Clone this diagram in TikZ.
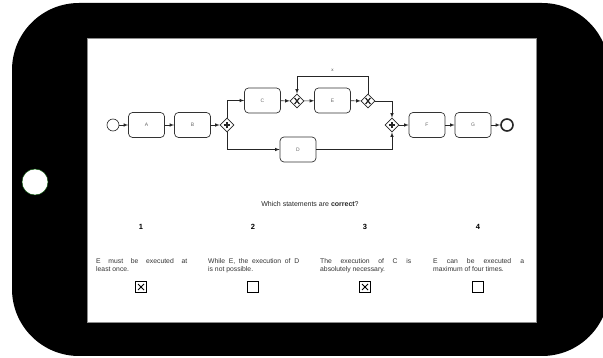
\documentclass[tikz,border=0pt]{standalone}
\usepackage{fontspec}
\setmainfont{Liberation Sans}
\usetikzlibrary{calc,shapes,positioning}
\usetikzlibrary{arrows}

\begin{document}
\begin{tikzpicture}[x=1pt,y=-1pt,>=latex]
    \tikzstyle{task} = [thick, draw=black!80, line width=0.7pt, rectangle, rounded corners = 4pt, minimum width = 36pt, minimum height = 25pt, inner sep = 0pt, font=\fontsize{5}{6}\selectfont, text=black!60]
    \tikzstyle{pgate} = [draw=black!85, diamond, line width=0.6pt, minimum size = 14pt, inner sep = 0pt,
      path picture={\draw[line width=1.3pt] ([xshift=-3.4pt]path picture bounding box.center) -- ([xshift=3.4pt]path picture bounding box.center) ([yshift=-3.4pt]path picture bounding box.center) -- ([yshift=3.4pt]path picture bounding box.center);}]
    \tikzstyle{xgate} = [draw=black!85, diamond, line width=0.6pt, minimum size = 14pt, inner sep = 0pt,
      path picture={\draw[line width=1.2pt] ([shift={(-2.4pt,-3pt)}]path picture bounding box.center) -- ([shift={(2.4pt,3pt)}]path picture bounding box.center) ([shift={(-2.4pt,3pt)}]path picture bounding box.center) -- ([shift={(2.4pt,-3pt)}]path picture bounding box.center);}]
    \tikzstyle{event} = [draw=black!85, circle, minimum size = 12pt, inner sep = 0pt, line width=0.6pt]
    \tikzstyle{flow} = [->, line width=0.6pt, draw=black!85]
    \tikzstyle{stmt} = [anchor=north west, text width = 91pt, align=justify, inner sep = 0pt, font=\fontsize{6.8}{8}\selectfont, text=black!80]
    \tikzstyle{num} = [font=\fontsize{7.5}{9}\selectfont\bfseries]
    \tikzstyle{cbox} = [draw, line width=1.1pt, minimum size = 11pt, inner sep = 0pt]
    \tikzstyle{cboxx} = [cbox, path picture={\draw[line width=0.8pt] ([shift={(-3pt,-3pt)}]path picture bounding box.center) -- ([shift={(3pt,3pt)}]path picture bounding box.center) ([shift={(-3pt,3pt)}]path picture bounding box.center) -- ([shift={(3pt,-3pt)}]path picture bounding box.center);}]

    \useasboundingbox (0,0) rectangle (603,358);
    \fill[white] (0,0) rectangle (603,358);

    % tablet
    \fill[black, rounded corners = 67pt] (12,3) rectangle (609,356);
    \fill[white] (87,38) rectangle (536,322);
    \draw[black!45, line width=0.6pt] (87,38) rectangle (536,322);
    \draw[fill=white, draw=green!35!black, line width=0.4pt] (35,182) circle (13pt);

    % process
    \node[event] (start) at (113,125) {};
    \node[task] (A) at (146.5,125) {A};
    \node[task] (B) at (192.5,125) {B};
    \node[pgate] (g1) at (227,125) {};
    \node[task] (C) at (262.5,100.5) {C};
    \node[task] (D) at (298,149.5) {D};
    \node[xgate] (x1) at (297,101) {};
    \node[task] (E) at (332.5,100.5) {E};
    \node[xgate] (x2) at (368,101) {};
    \node[pgate] (g2) at (392,125) {};
    \node[task] (F) at (427,125) {F};
    \node[task] (G) at (473,125) {G};
    \node[event, line width=1.6pt] (end) at (507,125) {};

    \coordinate (loopR) at (368,76);
    \coordinate (loopL) at (297,76);

    \draw[flow] (start) -- (A);
    \draw[flow] (A) -- (B);
    \draw[flow] (B) -- (g1);
    \draw[flow] (g1) |- (C);
    \draw[flow] (g1) |- (D);
    \draw[flow] (C) -- (x1);
    \draw[flow] (x1) -- (E);
    \draw[flow] (E) -- (x2);
    \draw[flow] (x2) -- (loopR) -- node[above=0.5pt, font=\fontsize{4.5}{5}\selectfont, text=black!70] (xlab) {x} (loopL) -- (x1);
    \draw[flow] (x2) -| (g2);
    \draw[flow] (D) -| (g2);
    \draw[flow] (g2) -- (F);
    \draw[flow] (F) -- (G);
    \draw[flow] (G) -- (end);

    % question
    \node[font=\fontsize{7}{8}\selectfont, text=black!85] (q) at (310,204) {Which statements are \textbf{correct}?};

    \node[num] (n1) at (141,227) {1};
    \node[num] (n2) at (253,227) {2};
    \node[num] (n3) at (365,227) {3};
    \node[num] (n4) at (478,227) {4};

    \node[stmt] (s1) at (96,258) {E must be executed at\linebreak least once.};
    \node[stmt] (s2) at (208,258) {While E, the execution of D\linebreak is not possible.};
    \node[stmt] (s3) at (320,258) {The execution of C is\linebreak absolutely necessary.};
    \node[stmt] (s4) at (433,258) {E can be executed a\linebreak maximum of four times.};

    \node[cboxx] (b1) at (141,287) {};
    \node[cbox] (b2) at (253,287) {};
    \node[cboxx] (b3) at (365,287) {};
    \node[cbox] (b4) at (478,287) {};
\end{tikzpicture}
\end{document}
